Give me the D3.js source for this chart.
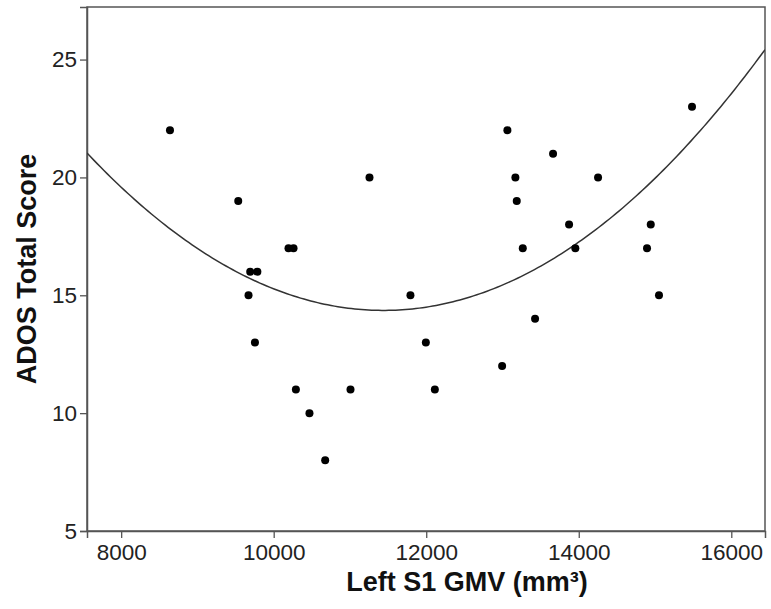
<!DOCTYPE html>
<html>
<head>
<meta charset="utf-8">
<script src="https://cdn.jsdelivr.net/npm/d3@7"></script>
<style>
  body { margin: 0; background: #fff; }
  text { font-family: "Liberation Sans", Arial, sans-serif; }
</style>
</head>
<body>
<div id="chart"></div>
<script>
// scatter data
var gmvValues = [8640, 9535, 9670, 9692, 9754, 9786, 10194, 10260, 10291, 10469,
                 10675, 11007, 11256, 11793, 11995, 12113, 12995, 13064, 13169, 13187,
                 13266, 13427, 13663, 13873, 13955, 14253, 14895, 14944, 15052, 15485];
var adosScores = [22, 19, 15, 16, 13, 16, 17, 17, 11, 10,
                  8, 11, 20, 15, 13, 11, 12, 22, 20, 19,
                  17, 14, 21, 18, 17, 20, 17, 18, 15, 23];
var xTicks = [8000, 10000, 12000, 14000, 16000];
var yTicks = [5, 10, 15, 20, 25];

// set the dimensions and margins of the graph
var vMargin = { mTop: 7, mRight: 6, mBottom: 78, mLeft: 87 },
    vWidth = 771 - vMargin.mLeft - vMargin.mRight,
    vHeight = 609 - vMargin.mTop - vMargin.mBottom;

var svg = d3.select("#chart")
    .append("svg")
    .attr("width", 771)
    .attr("height", 609)
    .append("g")
    .attr("transform", "translate(" + vMargin.mLeft + "," + vMargin.mTop + ")");

var x = d3.scaleLinear().domain([7552, 16442]).range([0, vWidth]);
var y = d3.scaleLinear().domain([5, 27.23]).range([vHeight, 0]);

// frame
svg.append("rect")
    .attr("width", vWidth)
    .attr("height", vHeight)
    .attr("fill", "none")
    .attr("stroke", "#555")
    .attr("stroke-width", 1.5);

var xAxis = svg.append("g")
    .attr("transform", "translate(0," + vHeight + ")")
    .call(d3.axisBottom(x).tickValues(xTicks).tickFormat(d3.format("d")).tickSize(7).tickPadding(6));
var yAxis = svg.append("g")
    .call(d3.axisLeft(y).tickValues(yTicks).tickSize(7).tickPadding(3));

[xAxis, yAxis].forEach(function (g) {
    g.select(".domain").attr("stroke", "#555").attr("stroke-width", 1.5);
    g.selectAll(".tick line").attr("stroke", "#555").attr("stroke-width", 1.3);
    g.selectAll(".tick text")
        .attr("fill", "#222")
        .style("font-family", "'Liberation Sans', Arial, sans-serif")
        .style("font-size", "22.5px");
});

// quadratic least-squares fit of the points
function quadFit(xs, ys) {
    var n = xs.length, m = d3.mean(xs);
    var S = [0, 0, 0, 0, 0], T = [0, 0, 0];
    for (var i = 0; i < n; i++) {
        var t = (xs[i] - m) / 1000;
        for (var k = 0; k < 5; k++) S[k] += Math.pow(t, k);
        for (var k2 = 0; k2 < 3; k2++) T[k2] += ys[i] * Math.pow(t, k2);
    }
    var A = [[S[0], S[1], S[2], T[0]], [S[1], S[2], S[3], T[1]], [S[2], S[3], S[4], T[2]]];
    for (var c = 0; c < 3; c++) {
        for (var r = c + 1; r < 3; r++) {
            var f = A[r][c] / A[c][c];
            for (var j = c; j < 4; j++) A[r][j] -= f * A[c][j];
        }
    }
    var b = [0, 0, 0];
    for (var r2 = 2; r2 >= 0; r2--) {
        var s = A[r2][3];
        for (var j2 = r2 + 1; j2 < 3; j2++) s -= A[r2][j2] * b[j2];
        b[r2] = s / A[r2][r2];
    }
    return function (v) { var t = (v - m) / 1000; return b[0] + b[1] * t + b[2] * t * t; };
}
var fit = quadFit(gmvValues, adosScores);
var curveXs = d3.range(0, 201).map(function (i) { return 7552 + (16442 - 7552) * i / 200; });

svg.append("clipPath").attr("id", "clip")
    .append("rect").attr("width", vWidth).attr("height", vHeight);

svg.append("path")
    .datum(curveXs)
    .attr("clip-path", "url(#clip)")
    .attr("fill", "none")
    .attr("stroke", "#333")
    .attr("stroke-width", 1.5)
    .attr("d", d3.line().x(function (d) { return x(d); }).y(function (d) { return y(fit(d)); }));

svg.selectAll("circle.dot")
    .data(gmvValues)
    .enter()
    .append("circle")
    .attr("class", "dot")
    .attr("cx", function (d) { return x(d); })
    .attr("cy", function (d, i) { return y(adosScores[i]); })
    .attr("r", 4)
    .attr("fill", "#000");

// axis titles
svg.append("text")
    .attr("x", 380)
    .attr("y", 584)
    .attr("text-anchor", "middle")
    .style("font-weight", "bold")
    .style("font-size", "27px")
    .attr("fill", "#111")
    .text("Left S1 GMV (mm³)");

svg.append("text")
    .attr("transform", "translate(" + (-51) + "," + (vHeight / 2) + ") rotate(-90)")
    .attr("text-anchor", "middle")
    .style("font-weight", "bold")
    .style("font-size", "27px")
    .attr("fill", "#111")
    .text("ADOS Total Score");
</script>
</body>
</html>
